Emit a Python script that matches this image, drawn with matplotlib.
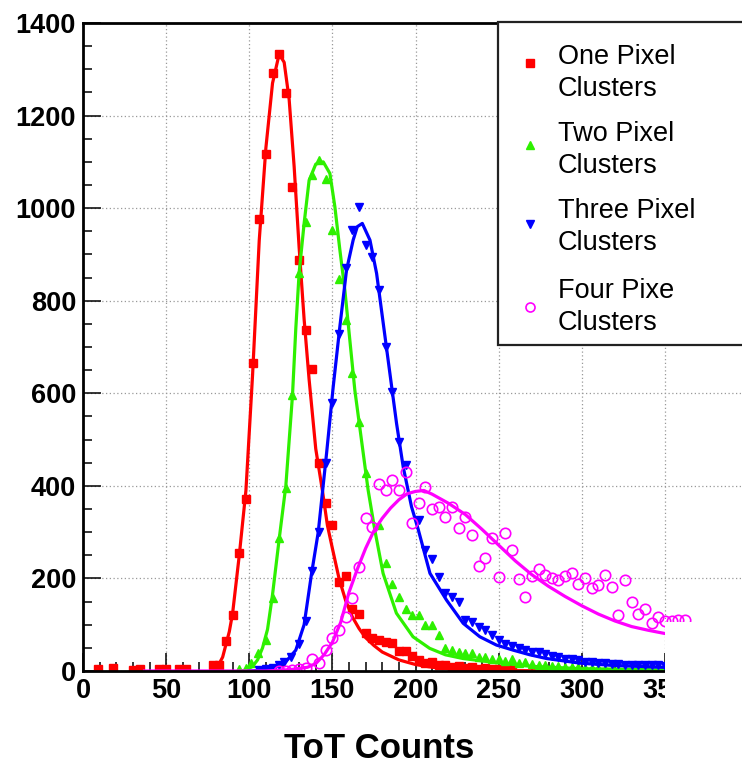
import numpy as np
import matplotlib
matplotlib.use('Agg')
import matplotlib.pyplot as plt
from matplotlib.patches import Rectangle
from matplotlib.lines import Line2D

plt.rcParams['font.family'] = ['Liberation Sans', 'DejaVu Sans']

# one pixel clusters (data + fit)
one_x = [9, 18, 30, 34, 46, 50, 58, 62, 78, 82, 86, 90, 94, 98, 102, 106, 110, 114, 118, 122,
         126, 130, 134, 138, 142, 146, 150, 154, 158, 162, 166, 170, 174, 178, 182, 186, 190,
         194, 198, 202, 206, 210, 214, 218, 222, 226, 230, 234, 238, 242, 246, 250, 254, 258]
one_y = [4, 6, 3, 4, 5, 4, 5, 4, 13, 13, 65, 121, 254, 371, 666, 976, 1118, 1291, 1333, 1248,
         1046, 888, 737, 652, 450, 364, 315, 193, 205, 135, 123, 83, 71, 67, 63, 61, 44,
         44, 32, 24, 18, 20, 12, 14, 8, 10, 6, 8, 5, 7, 4, 5, 3, 4]
one_fit_x = [80, 84, 88, 90, 94, 98, 102, 106, 110, 114, 118, 121, 124, 127, 130, 133, 136, 140,
             144, 147, 150, 154, 158, 162, 166, 170, 175, 180, 190, 200, 210, 225, 250, 300, 360]
one_fit_y = [3, 30, 85, 125, 250, 390, 640, 930, 1130, 1270, 1333, 1315, 1235, 1090, 915, 760,
             630, 480, 390, 315, 265, 200, 152, 117, 92, 72, 55, 41, 24, 14, 8, 4, 1, 0, 0]

# two pixel clusters
two_x = [94, 98, 101, 105, 110, 114, 118, 122, 126, 130, 134, 138, 142, 146, 150, 154, 158, 162,
         166, 170, 178, 182, 186, 190, 194, 198, 202, 206, 210, 214, 218, 222, 226, 230, 234, 238,
         242, 246, 250, 254, 258, 262, 266, 270, 274, 278, 282, 286, 290, 294, 298, 302, 306, 310,
         314, 318, 322, 326, 330, 334]
two_y = [4, 6, 17, 38, 67, 157, 287, 395, 596, 859, 971, 1072, 1104, 1064, 953, 847, 758, 643,
         539, 427, 315, 233, 188, 160, 135, 121, 121, 99, 99, 78, 49, 45, 40, 38, 38, 31,
         31, 27, 25, 22, 25, 18, 20, 15, 14, 12, 10, 11, 9, 8, 8, 7, 6, 6,
         5, 5, 4, 4, 3, 3]
two_fit_x = [95, 98, 102, 105, 108, 111, 114, 118, 122, 126, 128, 130, 133, 136, 140, 144.5, 148.5,
             151.5, 154.5, 157.5, 160.5, 163.5, 167.5, 171.5, 175.5, 180.5, 188.5, 198.5, 208.5,
             218, 228.5, 248.5, 270, 300, 360]
two_fit_y = [0, 2, 10, 24, 50, 90, 165, 285, 400, 595, 740, 860, 967, 1060, 1095, 1100, 1075,
             1003, 910, 823, 715, 607, 499, 391, 305, 211, 125, 74, 49, 35, 27, 18, 10, 5, 2]

# three pixel clusters
three_x = [106, 110, 114, 118, 121, 125, 130, 134, 138, 142, 146, 150, 154, 158, 162, 166, 170,
           174, 178, 182, 186, 190, 194, 202, 206, 210, 214, 218, 222, 226, 230, 234, 238, 242,
           246, 250, 254, 258, 262, 266, 270, 274, 278, 282, 286, 290, 294, 298, 302, 306, 310,
           314, 318, 322, 326, 330, 334, 338, 342, 346, 350]
three_y = [2, 4, 6, 12, 20, 31, 58, 107, 215, 301, 450, 580, 729, 870, 953, 1003, 920,
           895, 823, 700, 603, 495, 445, 326, 261, 243, 204, 168, 160, 150, 110, 105, 96, 88,
           78, 66, 58, 54, 49, 45, 42, 40, 37, 33, 30, 27, 25, 24, 20, 19, 18,
           17, 15, 15, 14, 13, 13, 13, 12, 12, 11]
three_fit_x = [100, 105, 115, 122, 128, 133, 137.5, 141.5, 146.5, 150.5, 154.5, 158.5, 162.5, 165,
               168, 172.6, 176.6, 180.6, 184.6, 188.6, 192.6, 197.6, 201.7, 208.7, 218.7, 228.7,
               238.7, 248.7, 258.8, 268.8, 278.8, 298.9, 318.9, 349, 360]
three_fit_y = [0, 1, 6, 20, 45, 100, 211, 300, 470, 614, 744, 866, 931, 960, 967, 931, 859, 751,
               643, 535, 441, 355, 305, 211, 153, 103, 74, 56, 45, 35, 27, 17, 12, 8, 7]

# four pixel clusters
four_x = [118, 122, 126, 130, 134, 138, 142, 146, 150, 154, 158, 162, 166, 170, 174, 178, 182, 186,
          190, 194, 198, 202, 206, 210, 214, 218, 222, 226, 230, 234, 238, 242, 246, 250, 254,
          258, 262, 266, 270, 274, 278, 282, 286, 290, 294, 298, 302, 306, 310, 314, 318, 322,
          326, 330, 334, 338, 342, 346, 350, 354, 358, 362]
four_y = [0, 1, 2, 5, 6, 25, 18, 45, 71, 89, 117, 157, 225, 330, 311, 404, 390, 412,
          390, 430, 319, 364, 398, 350, 355, 333, 355, 310, 332, 293, 226, 245, 287, 203, 299,
          261, 198, 159, 205, 220, 207, 202, 197, 205, 212, 188, 202, 179, 186, 207, 182, 121,
          197, 148, 123, 135, 104, 116, 107, 109, 110, 110]
four_fit_x = [37, 110, 125, 135, 140, 145, 150, 155, 160, 165, 170, 175, 180, 185, 190, 195, 200,
              205, 210, 220, 230, 240, 250, 260, 270, 280, 290, 300, 310, 320, 330, 340, 350, 360]
four_fit_y = [0, 0, 3, 8, 16, 35, 62, 105, 170, 220, 265, 303, 330, 352, 370, 383, 388,
              390, 382, 362, 338, 306, 272, 238, 208, 183, 161, 141, 123, 108, 96, 88, 81, 75]

labels = ['One Pixel\nClusters', 'Two Pixel\nClusters', 'Three Pixel\nClusters', 'Four Pixe\nClusters']

c_red = '#ff0000'
c_green = '#2ef000'
c_blue = '#0000ff'
c_pink = '#ff00ff'

W, H = 742, 763
fig = plt.figure(figsize=(W/100, H/100), dpi=100)
ax = fig.add_axes([83/W, 92/H, 665/W, 648/H])

ax.set_xlim(0, 400)
ax.set_ylim(0, 1400)
ax.set_xticks(np.arange(0, 351, 50))
ax.set_xticks(np.arange(0, 401, 10), minor=True)
ax.set_yticks(np.arange(0, 1401, 200))
ax.set_yticks(np.arange(0, 1401, 50), minor=True)
ax.grid(True, which='major', color='#999999', linestyle=(0, (1, 2)), linewidth=0.9)
ax.set_axisbelow(True)

ax.tick_params(which='both', direction='in', top=False, right=False, width=1.1, color='black')
ax.tick_params(which='major', length=13, labelsize=19.5, pad=5)
ax.tick_params(which='minor', length=6.5)
for lab in ax.get_xticklabels() + ax.get_yticklabels():
    lab.set_fontweight('bold')
for s in ['top', 'bottom', 'left', 'right']:
    ax.spines[s].set_linewidth(2)

lw = 2.3
ax.plot(one_x, one_y, 's', color=c_red, ms=5.8, mec=c_red)
ax.plot(one_fit_x, one_fit_y, '-', color=c_red, lw=lw)
ax.plot(two_x, two_y, '^', color=c_green, ms=5.5, mec=c_green)
ax.plot(two_fit_x, two_fit_y, '-', color=c_green, lw=lw)
ax.plot(three_x, three_y, 'v', color=c_blue, ms=5.5, mec=c_blue)
ax.plot(three_fit_x, three_fit_y, '-', color=c_blue, lw=lw)
ax.plot(four_x, four_y, 'o', mfc='none', mec=c_pink, ms=7.5, mew=1.2)
ax.plot(four_fit_x, four_fit_y, '-', color=c_pink, lw=lw)

# white patch that hides the cut-off right end of the x axis
fig.patches.append(Rectangle((665/W, 0), 1, (H-622)/H, transform=fig.transFigure,
                             facecolor='white', edgecolor='none', zorder=10))

# legend box
fig.patches.append(Rectangle((498/W, 1-345/H), 300/W, (345-22)/H, transform=fig.transFigure,
                             facecolor='white', edgecolor='#222222', linewidth=1.6, zorder=10))
mk_y = [63, 145, 224, 307]
tx_y = [73, 150, 227, 307]
styles = [dict(marker='s', color=c_red, mec=c_red, ms=5.5),
          dict(marker='^', color=c_green, mec=c_green, ms=5.5),
          dict(marker='v', color=c_blue, mec=c_blue, ms=5.5),
          dict(marker='o', mfc='none', mec=c_pink, ms=6.5, mew=1.2)]
for lab, my, ty, st in zip(labels, mk_y, tx_y, styles):
    fig.add_artist(Line2D([530/W], [1-my/H], transform=fig.transFigure, linestyle='none',
                          zorder=11, **st))
    fig.text(558/W, 1-ty/H, lab, ha='left', va='center', fontsize=19.5,
             linespacing=1.3, zorder=11)

fig.text(379/W, 1-748/H, 'ToT Counts', ha='center', va='center', fontsize=25, fontweight='bold')

fig.savefig('out.png', dpi=100)
